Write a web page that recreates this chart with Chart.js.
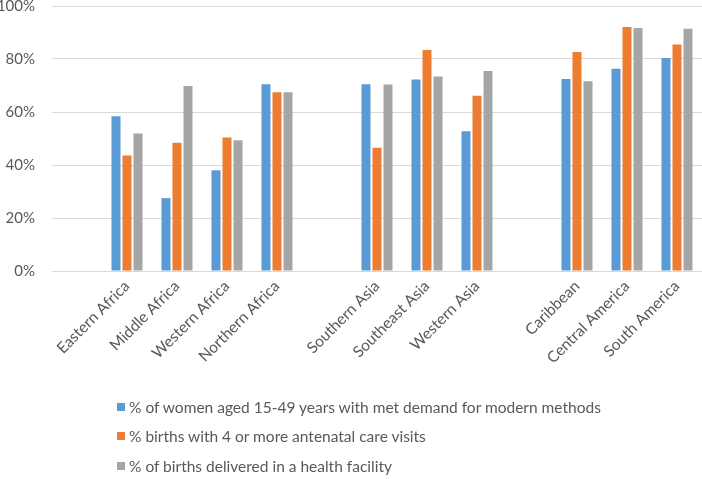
<!DOCTYPE html>
<html>
<head>
<meta charset="utf-8">
<script src="https://cdn.jsdelivr.net/npm/chart.js@4.4.1/dist/chart.umd.min.js"></script>
<style>
    html, body { margin: 0; padding: 0; background: #fff; }
    #wrap { position: relative; width: 702px; height: 479px; }
    #legend { position: absolute; left: 117px; top: 392px; font-family: Lato, sans-serif; font-size: 15.5px; color: #595959; }
    #legend div { height: 29.5px; display: flex; align-items: center; }
    #legend span.box { display: inline-block; width: 8px; height: 8px; margin-right: 4px; }
</style>
</head>
<body>
<div id="wrap">
    <canvas id="chart" width="702" height="479"></canvas>
    <div id="legend"></div>
</div>
<script>
// empty strings are the spacer slots between the regions
const regions = ['', 'Eastern Africa', 'Middle Africa', 'Western Africa', 'Northern Africa', '',
    'Southern Asia', 'Southeast Asia', 'Western Asia', '',
    'Caribbean', 'Central America', 'South America'];
const metDemand = [null, 58.4, 27.5, 38.0, 70.5, null, 70.5, 72.3, 52.7, null, 72.5, 76.3, 80.4];
const antenatal = [null, 43.6, 48.4, 50.4, 67.5, null, 46.5, 83.4, 66.1, null, 82.6, 92.1, 85.5];
const facility = [null, 51.9, 69.8, 49.3, 67.5, null, 70.4, 73.4, 75.5, null, 71.6, 91.7, 91.4];
const seriesNames = ['% of women aged 15-49 years with met demand for modern methods',
    '% births with 4 or more antenatal care visits',
    '% of births delivered in a health facility'];
const seriesColors = ['#5B9BD5', '#ED7D31', '#A5A5A5'];
const yTicks = [0, 20, 40, 60, 80, 100];

const tickColor = '#595959';
const gridColor = '#D9D9D9';

const datasets = [metDemand, antenatal, facility].map((vals, i) => ({
    label: seriesNames[i],
    data: vals,
    backgroundColor: seriesColors[i],
    categoryPercentage: 0.66,
    barPercentage: 0.82
}));

const ctx = document.getElementById('chart').getContext('2d');
new Chart(ctx, {
    type: 'bar',
    data: { labels: regions, datasets: datasets },
    options: {
        responsive: false,
        animation: false,
        layout: { padding: { top: 0, right: 0, left: 0, bottom: 108 } },
        plugins: { legend: { display: false }, tooltip: { enabled: false } },
        scales: {
            x: {
                grid: { display: false, drawTicks: false },
                border: { color: gridColor, width: 1 },
                ticks: {
                    color: tickColor,
                    font: { family: 'Lato', size: 15.5 },
                    minRotation: 45, maxRotation: 45,
                    autoSkip: false,
                    padding: 6
                },
                afterFit: (scale) => { scale.height = 100; scale.paddingTop = 0; }
            },
            y: {
                min: 0, max: 100,
                afterBuildTicks: (scale) => { scale.ticks = yTicks.map(v => ({ value: v })); },
                grid: { color: gridColor, drawTicks: false },
                border: { display: false },
                ticks: {
                    color: tickColor,
                    font: { family: 'Lato', size: 15 },
                    padding: 17,
                    callback: (v) => v + '%'
                },
                afterFit: (scale) => { scale.width = 52; scale.paddingTop = 6; }
            }
        }
    }
});

const legend = document.getElementById('legend');
seriesNames.forEach((name, i) => {
    const row = document.createElement('div');
    row.innerHTML = `<span class="box" style="background:${seriesColors[i]}"></span>${name}`;
    legend.appendChild(row);
});
</script>
</body>
</html>
